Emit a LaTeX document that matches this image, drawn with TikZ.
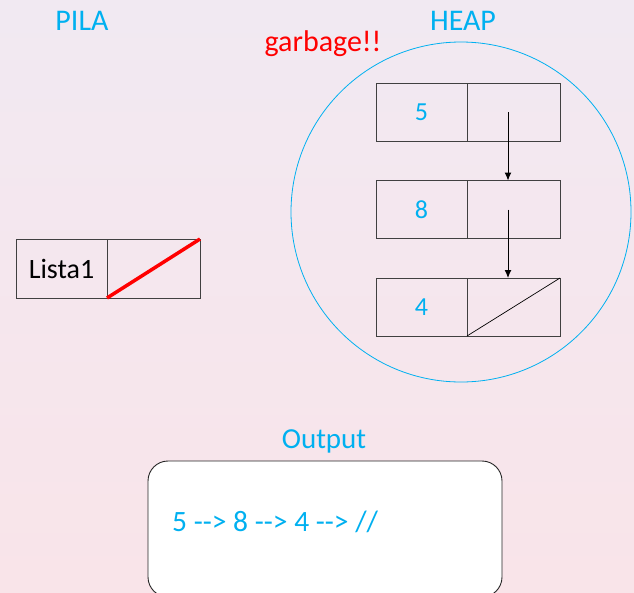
\documentclass[tikz,border=0pt]{standalone}
\usepackage{fontspec}
\setmainfont{Carlito}
\usetikzlibrary{positioning,arrows.meta}
\definecolor{azzurro}{RGB}{0,176,240}
\definecolor{sfondoalto}{RGB}{241,233,242}
\definecolor{sfondobasso}{RGB}{249,228,233}
% стрелка без лигатуры
\newcommand{\fr}{-\kern0pt-\kern0pt>}
\begin{document}
\begin{tikzpicture}[x=1pt,y=-1pt,
                cella/.style={draw=black!75,line width=0.9pt,minimum height=58pt,inner sep=0pt,outer sep=0pt},
                valore/.style={cella,minimum width=91pt,text=azzurro,font=\fontsize{26}{30}\selectfont},
                puntatore/.style={cella,minimum width=93pt},
                titolo/.style={text=azzurro,font=\fontsize{30}{36}\selectfont},
                freccia/.style={-{Latex[length=8pt,width=7pt]},line width=1pt}]
% фон
                \shade [top color=sfondoalto, bottom color=sfondobasso] ( 0, 0 ) rectangle ( 634, 592 );
                \useasboundingbox ( 0, 0 ) rectangle ( 634, 592 );

% заголовки
                \node [titolo] (pila) at ( 82, 21 ) {PILA};
                \node [titolo] (heap) at ( 463, 21 ) {HEAP};
                \node [text=red, font=\fontsize{30}{36}\selectfont] (garbage) at ( 323, 44 ) {garbage!!};

% куча
                \node [draw=azzurro, circle, line width=0.8pt, minimum size=340pt, inner sep=0pt] (mucchio) at ( 461, 212 ) {};
                \node [valore] (v1) at ( 421.5, 112 ) {5};
                \node [puntatore, right=0pt of v1] (p1) {};
                \node [valore] (v2) at ( 421.5, 209.5 ) {8};
                \node [puntatore, right=0pt of v2] (p2) {};
                \node [valore] (v3) at ( 421.5, 307 ) {4};
                \node [puntatore, right=0pt of v3] (p3) {};
                \draw [line width=0.7pt] (p3.south west) -- (p3.north east);
                \draw [freccia] ([xshift=-5.5pt]p1.center) -- ([xshift=-5.5pt]p2.north);
                \draw [freccia] ([xshift=-5.5pt]p2.center) -- ([xshift=-5.5pt]p3.north);

% стек
                \node [valore, text=black, font=\fontsize{28}{34}\selectfont, minimum height=59pt] (l0) at ( 61.5, 268.5 ) {Lista1};
                \node [puntatore, minimum height=59pt, right=0pt of l0] (l1) {};
                \draw [red, line width=3.5pt] (l1.south west) -- (l1.north east);

% вывод
                \node [titolo, font=\fontsize{29}{34}\selectfont] (output) at ( 324, 441 ) {Output};
                \node [draw=black!85, fill=white, line width=0.9pt, rounded corners=20pt, minimum width=354pt, minimum height=136pt] (schermo) at ( 325, 529 ) {};
                \node [anchor=west, text=azzurro, font=\fontsize{29.5}{35}\selectfont, inner sep=0pt] (riga) at ( 172, 522 ) {5 \fr{} 8 \fr{} 4 \fr{} //};
            \end{tikzpicture}
\end{document}
